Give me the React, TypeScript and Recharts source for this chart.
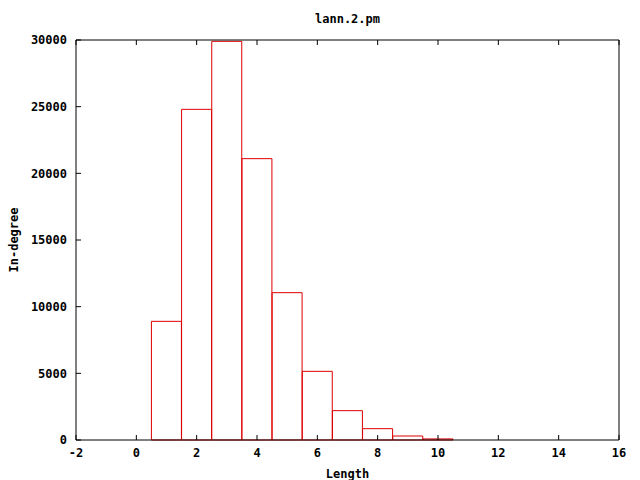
import React from 'react';
import { BarChart, Bar, XAxis, YAxis } from 'recharts';

const bins = [1, 2, 3, 4, 5, 6, 7, 8, 9, 10];
const counts = [8900, 24800, 29900, 21100, 11050, 5150, 2200, 850, 300, 80];
const xTicks = [-2, 0, 2, 4, 6, 8, 10, 12, 14, 16];
const yTicks = [0, 5000, 10000, 15000, 20000, 25000, 30000];

const data = bins.map((b, i) => ({ len: b, count: counts[i] }));

const font = { fontFamily: '"DejaVu Sans Mono", monospace', fontSize: 12, fontWeight: 700, fill: '#000' };
const blank = () => '';

export default function App() {
  return (
    <div style={{ position: 'absolute', left: 0, top: 0, width: 640, height: 480, background: '#fff' }}>
      <div
        style={{
          position: 'absolute', left: 76, width: 543, top: 12, textAlign: 'center',
          fontFamily: '"DejaVu Sans Mono", monospace', fontSize: 12, fontWeight: 700,
        }}
      >
        lann.2.pm
      </div>
      <BarChart
        width={640}
        height={480}
        data={data}
        margin={{ top: 20, right: 0, bottom: 0, left: 0 }}
        barCategoryGap={0}
      >
        <XAxis
          xAxisId="b"
          dataKey="len"
          type="number"
          domain={[-2, 16]}
          ticks={xTicks}
          height={40}
          stroke="#000"
          tickSize={-5}
          tickMargin={13}
          tick={font}
          label={{ value: 'Length', position: 'insideBottom', offset: 2, style: font }}
        />
        <XAxis
          xAxisId="t"
          dataKey="len"
          type="number"
          orientation="top"
          domain={[-2, 16]}
          ticks={xTicks}
          height={20}
          stroke="#000"
          tickSize={-5}
          tickFormatter={blank}
        />
        <YAxis
          yAxisId="l"
          domain={[0, 30000]}
          ticks={yTicks}
          width={76}
          stroke="#000"
          tickSize={-5}
          tickMargin={14}
          tick={font}
          label={{ value: 'In-degree', angle: -90, position: 'insideLeft', offset: 14, style: { ...font, textAnchor: 'middle' } }}
        />
        <YAxis
          yAxisId="r"
          orientation="right"
          domain={[0, 30000]}
          ticks={yTicks}
          width={21}
          stroke="#000"
          tickSize={-5}
          tickFormatter={blank}
        />
        <Bar
          xAxisId="b"
          yAxisId="l"
          dataKey="count"
          fill="none"
          stroke="#dd0000"
          strokeWidth={1}
          isAnimationActive={false}
        />
      </BarChart>
    </div>
  );
}
